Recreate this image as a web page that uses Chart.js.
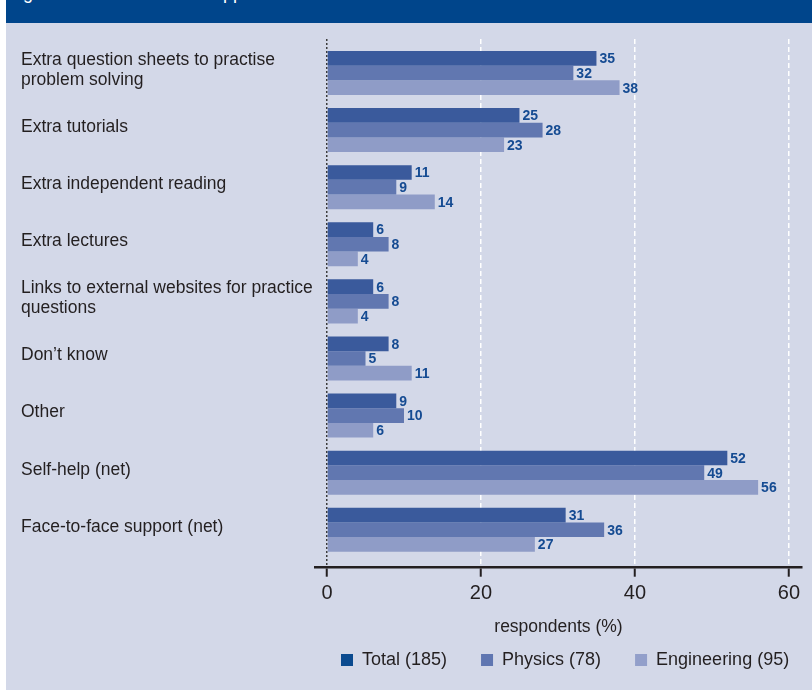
<!DOCTYPE html>
<html>
<head>
<meta charset="utf-8">
<script src="https://cdn.jsdelivr.net/npm/chart.js@4/dist/chart.umd.min.js"></script>
<style>
  html, body { margin: 0; padding: 0; background: #ffffff; width: 812px; height: 690px; overflow: hidden; }
  #header { position: absolute; left: 6px; top: 0; width: 806px; height: 23px; background: #00458b; overflow: hidden; }
  #header span { position: absolute; left: 2px; top: -16px; color: #ffffff; font: 18px "Liberation Sans", Arial, sans-serif; line-height: 18px; white-space: nowrap; }
  #panel { position: absolute; left: 6px; top: 23px; width: 806px; height: 667px; background: #d3d8e8; }
  canvas { position: absolute; left: 0; top: 0; }
</style>
</head>
<body>
<div id="header"><span>Figure 4  Preferred extra support</span></div>
<div id="panel"><canvas id="c" width="806" height="667"></canvas></div>
<script>
// ---- data ----
const categories = [
  ["Extra question sheets to practise", "problem solving"],
  "Extra tutorials",
  "Extra independent reading",
  "Extra lectures",
  ["Links to external websites for practice", "questions"],
  "Don\u2019t know",
  "Other",
  "Self-help (net)",
  "Face-to-face support (net)"
];
const seriesNames = ["Total (185)", "Physics (78)", "Engineering (95)"];
const totalValues       = [35, 25, 11, 6, 6, 8, 9, 52, 31];
const physicsValues     = [32, 28, 9, 8, 8, 5, 10, 49, 36];
const engineeringValues = [38, 23, 14, 4, 4, 11, 6, 56, 27];
const xTickValues = [0, 20, 40, 60];
const xTitle = "respondents (%)";

// ---- styles ----
const barColors = ["#3a5a9c", "#6177b0", "#8f9cc7"];
const legendColors = ["#0a4a8f", "#5f76b1", "#929fca"];
const textColor = "#231f20";
const valueColor = "#154b92";
const FONT = '"Liberation Sans", Arial, sans-serif';

const allValues = [totalValues, physicsValues, engineeringValues];
const datasets = allValues.map((vals, k) => ({
  label: seriesNames[k],
  data: vals.map((v, i) => ({ x: v, y: i })),
  backgroundColor: barColors[k],
  borderWidth: 0,
  categoryPercentage: 0.771,
  barPercentage: 1.0
}));

const valueLabels = {
  id: 'valueLabels',
  afterDatasetsDraw(chart) {
    const ctx = chart.ctx;
    ctx.save();
    ctx.font = 'bold 14px "Liberation Sans", Arial, sans-serif';
    ctx.fillStyle = valueColor;
    ctx.textAlign = 'left';
    ctx.textBaseline = 'middle';
    chart.data.datasets.forEach((ds, k) => {
      const meta = chart.getDatasetMeta(k);
      meta.data.forEach((bar, i) => {
        ctx.fillText(String(ds.data[i].x), bar.x + 3, bar.y + 1);
      });
    });
    ctx.restore();
  }
};

const legendPlace = {
  id: 'legendPlace',
  afterLayout(chart) {
    const lg = chart.legend;
    if (!lg) return;
    const pad = lg.options.labels.padding;
    const fs = lg.options.labels.font.size;
    const dx = 335 - (lg.left + pad);
    lg.left += dx; lg.right += dx + 200;
    const dy = 637 - (lg.top + pad + Math.max(fs, 12) / 2);
    lg.top += dy; lg.bottom = lg.top + 120;
  }
};

new Chart(document.getElementById('c'), {
  type: 'bar',
  data: { datasets },
  options: {
    indexAxis: 'y',
    responsive: false,
    animation: false,
    devicePixelRatio: 1,
    layout: { padding: { left: 15, right: 10, top: 16, bottom: 27.3 } },
    scales: {
      y: {
        type: 'linear',
        reverse: true,
        offset: false,
        min: -0.595,
        max: 8.664,
        afterBuildTicks: s => { s.ticks = categories.map((_, i) => ({ value: i })); },
        afterFit: s => { s.width = 294; },
        grid: { display: false, drawTicks: false, offset: false },
        border: { display: false },
        ticks: {
          crossAlign: 'far',
          padding: 0,
          labelOffset: -3,
          color: textColor,
          font: { family: FONT, size: 17.5, lineHeight: '20px' },
          callback: v => categories[v]
        }
      },
      x: {
        type: 'linear',
        min: -1.56,
        max: 61.7,
        afterBuildTicks: s => { s.ticks = xTickValues.map(v => ({ value: v })); },
        afterFit: s => { s.height = 75; },
        grid: {
          color: c => (c.tick && c.tick.value === 0) ? '#3c3c3c' : '#ffffff',
          lineWidth: 1.5,
          drawTicks: true,
          tickLength: 9,
          tickColor: textColor,
          tickWidth: 2
        },
        border: {
          display: true,
          color: textColor,
          width: 2.5,
          dash: c => c.tick ? (c.tick.value === 0 ? [2, 2] : [5, 3]) : []
        },
        ticks: {
          padding: 5,
          color: textColor,
          font: { family: FONT, size: 20 },
          callback: v => String(v)
        },
        title: {
          display: true,
          text: xTitle,
          color: textColor,
          font: { family: FONT, size: 17.5 },
          padding: { top: 4, bottom: 4.6 }
        }
      }
    },
    plugins: {
      legend: {
        position: 'bottom',
        align: 'start',
        maxHeight: 20,
        labels: {
          boxWidth: 12,
          boxHeight: 12,
          padding: 34,
          color: textColor,
          font: { family: FONT, size: 18 },
          generateLabels: chart => seriesNames.map((n, k) => ({
            text: n, fillStyle: legendColors[k], strokeStyle: legendColors[k],
            lineWidth: 0, fontColor: textColor, datasetIndex: k, hidden: false
          }))
        }
      },
      tooltip: { enabled: false }
    }
  },
  plugins: [valueLabels, legendPlace]
});
</script>
</body>
</html>
